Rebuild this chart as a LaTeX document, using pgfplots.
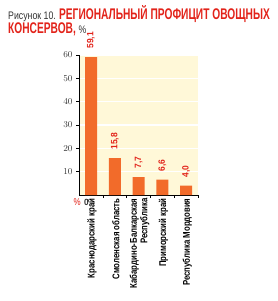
\documentclass[border=0pt]{standalone}
\usepackage{pgfplots}
\pgfplotsset{compat=1.18}
\usepackage{fontspec}
\setmainfont{Liberation Sans}
\newfontfamily\condfont[FakeStretch=0.8]{Liberation Sans}
\newfontfamily\titlefont[FakeStretch=0.66]{Liberation Sans}
\newfontfamily\numfont[FakeStretch=0.92]{Liberation Sans}
\definecolor{bgc}{HTML}{FFF8D8}
\definecolor{barc}{HTML}{F26B2A}
\definecolor{redc}{HTML}{E2231A}
\definecolor{txtc}{HTML}{333333}
\begin{document}
\begin{tikzpicture}[x=1bp,y=1bp]
\path[use as bounding box] (0,0) rectangle (278,301);
\node[anchor=base west,inner sep=0] at (8,282) {\condfont\fontsize{11}{12}\selectfont\color{txtc}Рисунок 10. \titlefont\fontsize{15.5}{16}\selectfont\bfseries\color{redc}РЕГИОНАЛЬНЫЙ ПРОФИЦИТ ОВОЩНЫХ};
\node[anchor=base west,inner sep=0] at (8,268) {\titlefont\fontsize{15.5}{16}\selectfont\bfseries\color{redc}КОНСЕРВОВ, \mdseries\condfont\fontsize{11}{12}\selectfont\color{txtc}\%};
\begin{axis}[
  at={(91bp,106bp)}, anchor=origin,
  scale only axis, width=119bp, height=140bp,
  xmin=-0.5, xmax=4.5, ymin=0, ymax=60,
  axis background/.style={fill=bgc},
  axis x line*=bottom, axis y line*=left,
  axis line style={black, line width=0.6pt, -},
  ytick={10,20,30,40,50,60},
  ymajorgrids, grid style={white, line width=1.2pt},
  yticklabel style={font=\numfont\bfseries\fontsize{9}{10}\selectfont, text=txtc, xshift=0pt},
  major tick length=3bp,
  tick style={black, line width=0.5pt},
  xtick={0.5,1.5,2.5,3.5,4.5},
  xticklabels={},
  extra x ticks={0,1,2,3,4},
  extra x tick labels={Краснодарский край, Смоленская область, {Кабардино-Балкарская\\Республика}, Приморский край, Республика Мордовия},
  extra x tick style={major tick length=0pt, xticklabel style={rotate=90, anchor=east, align=right, font=\condfont\bfseries\fontsize{9.8}{10.5}\selectfont, text=black, yshift=-1pt}},
  tick align=outside,
  clip=false,
  nodes near coords,
  nodes near coords style={rotate=90, anchor=west, font=\numfont\bfseries\fontsize{9.2}{10}\selectfont, text=redc, xshift=5pt},
  point meta=explicit symbolic,
]
\addplot[ybar, bar width=12bp, fill=barc, draw=none] coordinates {
  (0,59.1) [59,1]
  (1,15.8) [15,8]
  (2,7.7) [7,7]
  (3,6.6) [6,6]
  (4,4.0) [4,0]
};
\end{axis}
\node[anchor=base east,inner sep=0] at (81,96) {\condfont\fontsize{10}{11}\selectfont\color{redc}\%};
\node[anchor=base east,inner sep=0] at (89,96) {\numfont\bfseries\fontsize{9}{10}\selectfont\color{txtc}0};
\end{tikzpicture}
\end{document}
